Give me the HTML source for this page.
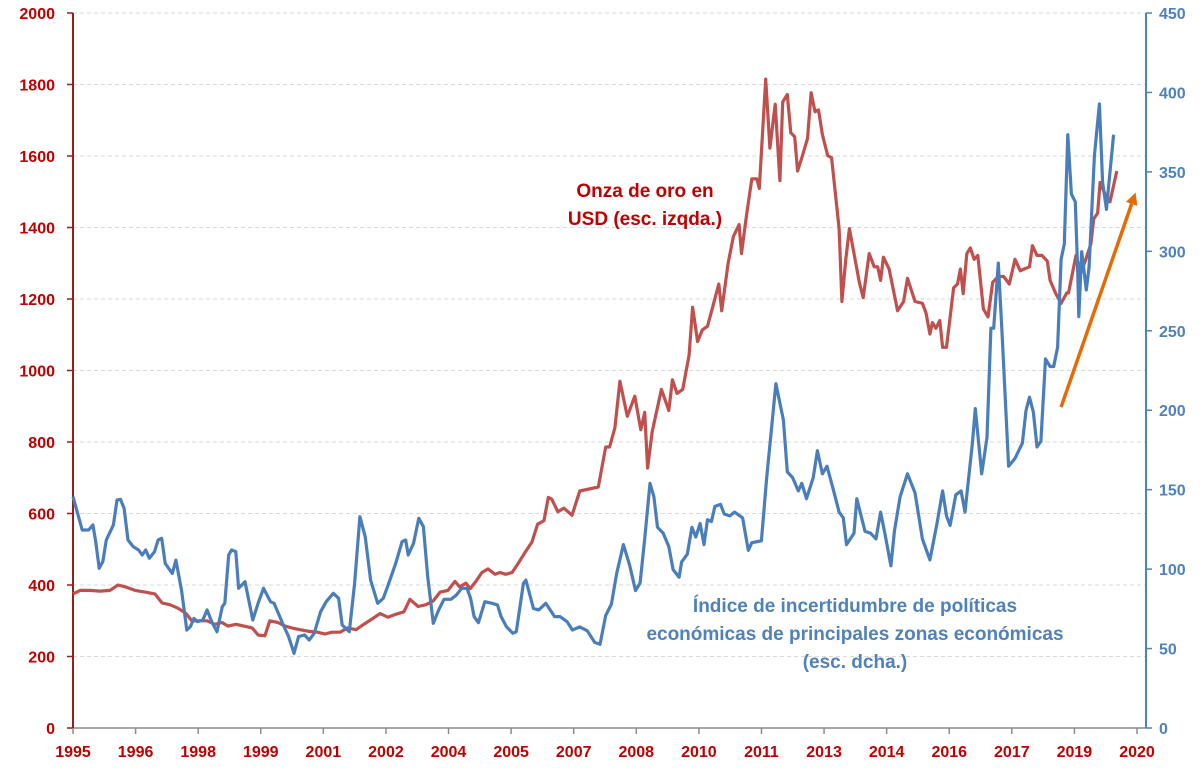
<!DOCTYPE html>
<html><head><meta charset="utf-8"><style>
html,body{margin:0;padding:0;background:#fff;}
svg{display:block;font-family:"Liberation Sans",sans-serif;}
</style></head><body>
<svg id="chart" width="1200" height="784" viewBox="0 0 1200 784" xmlns="http://www.w3.org/2000/svg">
<g id="grid"></g>
<g id="axes"></g>
<g id="series"></g>
<text x="645" y="197" text-anchor="middle" font-size="19" font-weight="bold" fill="#C00000">Onza de oro en</text>
<text x="645" y="225" text-anchor="middle" font-size="19" font-weight="bold" fill="#C00000">USD (esc. izqda.)</text>
<text x="855" y="612" text-anchor="middle" font-size="19" font-weight="bold" fill="#4F81BD">Índice de incertidumbre de políticas</text>
<text x="855" y="640" text-anchor="middle" font-size="19" font-weight="bold" fill="#4F81BD">económicas de principales zonas económicas</text>
<text x="855" y="668" text-anchor="middle" font-size="19" font-weight="bold" fill="#4F81BD">(esc. dcha.)</text>
</svg>
<script>
const xTickLabels = ["1995","1996","1998","1999","2001","2002","2004","2005","2007","2008","2010","2011","2013","2014","2016","2017","2019","2020"];
const leftTicks = [0,200,400,600,800,1000,1200,1400,1600,1800,2000];
const rightTicks = [0,50,100,150,200,250,300,350,400,450];
// gold: month index (0..300) and value in USD
const goldMonths = [0,2,4.8,7.6,10.4,12.7,14.7,17.5,20.3,23.1,25.1,27.3,29.6,31.9,33.5,35.8,37.8,40,42,43.7,46,48.2,50.5,52.2,54.1,55.5,57.8,59.8,61.7,64,66.8,69,71,73,75.3,77.5,79.8,82,84.3,86.6,88.8,91,93.3,95,97.3,99.5,101.5,103.5,105.7,107.7,109,110.8,112,113.6,115.3,117,119,120.4,122,123.8,125.5,127.4,129.4,131,132.8,134,135,136.7,138.4,140.7,142.9,148.1,150.2,151.3,152.8,154.2,156.3,158.4,160.1,161.2,162,163.3,165.9,168,169,170.3,171.9,173.7,174.7,176.1,177.4,178.9,180.5,182.1,182.9,184.7,186.2,187.8,188.5,189.9,191.4,192.8,193.5,195.3,196.5,198,199.3,200.1,201.4,202.4,203.5,204.3,205.5,207.1,208.1,209.2,210.2,211.3,212.8,213.9,216,216.8,217.9,218.9,220.2,221.7,222.8,224.5,225.9,226.9,227.7,228.5,230.1,232.5,234.2,235.3,237.4,239.5,240.5,241.6,242.3,243.3,244.4,245.2,246.3,248.3,249.4,250.2,251,252,253,254.1,255.1,256.7,258,259.3,260.9,262.4,264,265.6,267.1,268.2,269.7,270.5,271.8,273.2,274.7,275.5,277.1,278.6,280.2,280.7,282.8,284.1,285.4,287,287.8,288.9,289.6,291,292.4,294.3];
const goldValues = [375,385,385,383,385,400,395,385,380,375,350,345,335,320,300,300,300,290,295,285,290,285,280,260,258,300,295,285,280,275,270,268,263,268,268,280,275,290,305,320,310,318,325,360,340,345,355,380,385,410,395,405,390,410,435,445,430,435,430,435,460,490,520,570,580,645,640,605,615,595,663,674,786,786,840,970,872,928,834,883,727,829,947,888,974,936,947,1043,1177,1081,1113,1124,1183,1242,1167,1300,1375,1408,1327,1434,1536,1536,1509,1815,1622,1745,1531,1751,1772,1665,1654,1558,1595,1649,1777,1724,1729,1660,1601,1595,1397,1193,1311,1397,1327,1247,1204,1327,1290,1290,1252,1317,1284,1167,1193,1258,1193,1188,1161,1102,1134,1118,1140,1065,1065,1231,1242,1284,1215,1327,1343,1311,1322,1172,1150,1247,1263,1263,1242,1311,1279,1284,1290,1349,1322,1322,1306,1252,1215,1188,1217,1217,1322,1274,1306,1354,1424,1440,1526,1493,1472,1558];
// uncertainty index: month index and value
const epuMonths = [0,2.6,4.4,5.6,6.4,7.4,8.4,9.4,11.4,12.4,13.4,14.4,15.5,17,18.5,19.5,20.5,21.5,23,24,25,26,28,29,30.6,32.1,33.1,34.1,35.1,36.6,37.8,39.1,40.6,42.1,42.8,43.9,44.7,45.9,46.7,48.5,50.7,52.2,53.7,55.7,56.7,59.3,60.8,62.3,63.6,65.3,66.6,68,69.8,71.4,73.4,74.9,75.9,77.9,79.4,80.9,82.4,83.9,85.9,87.5,89,91,92.8,93.8,94.5,96,97.5,98.8,100,101.6,103.1,104.6,106.6,108.1,109.6,111.1,112.1,113.1,114.3,116.1,118.2,119.7,120.7,122.2,124,125,127,127.7,129.8,131.3,133.3,135.8,137.3,139.3,140.8,142.9,145,147.1,148.6,150.2,151.8,153.3,155.2,157,158.6,159.9,161.2,162.7,163.8,164.8,166.4,168,169.2,170.9,171.6,173.2,174.5,175.6,176.8,177.9,178.9,180,181,182.6,183.6,185.2,186.5,188.8,190.4,191.4,194.1,195.6,198.2,200.3,201.4,202.9,204.5,205.5,206.8,208.7,209.9,211.3,212.6,213.9,214.9,216,217.2,218.1,220.2,221,223.3,224.9,226.4,227.7,229,230.6,231.6,233.2,235.3,237.4,239.5,241.6,243.6,245.2,246.3,247.3,248.9,250.4,251.5,253.6,254.4,256.2,257.7,258.8,259.6,260.9,261.9,263.8,265.6,267.7,268.7,269.7,270.8,271.8,272.9,274.2,275.5,276.5,277.6,278.6,279.5,280.5,281.5,282.6,283.3,283.6,284.4,285.7,286.5,288,289.4,290.3,291.4,292,293.4];
const epuValues = [145.6,124.6,124.6,127.8,117.3,100.5,104.7,118.3,127.8,143.5,143.9,138.2,118.3,114.1,112,108.9,112,106.8,111,118.3,119.4,103.6,97.3,105.7,86.8,61.7,63.8,69,66.9,68,74.3,66.9,60.6,76.4,78.5,108.9,112,111,87.9,92.1,68,78.5,87.9,79.5,78.5,64.8,57.5,47,57.5,58.5,55.4,59.6,73.2,79.5,84.8,81.6,64.8,60.6,91,133,120.4,93.1,78.5,81.6,91,103.6,117.3,118.3,108.9,116.2,132,126.7,95.2,65.9,74.3,81,81,83.7,87.9,87.9,81.6,70.1,66.3,79.5,78.5,77.4,70.1,63.8,59.6,60.6,91,93.1,75.3,74.3,78.5,70.1,70.1,66.9,61.7,63.6,61.2,53.9,52.7,70.8,78,97.3,115.4,102.1,86.5,91.3,119,154,145.5,126.3,122.6,114.2,99.7,94.9,104.5,109.4,126.3,120.2,128.7,115.4,131.1,129.9,139.5,140.7,134.7,133.5,135.9,132.3,111.8,116.6,117.8,157.6,216.7,193.8,161.2,157.6,149.2,154,144.3,157.6,174.5,160,164.8,154,145.5,135.9,132.3,115.4,122.6,144.3,123.8,122.6,119,135.9,121.4,102.1,123.8,145.5,160,148,119,105.8,128.7,149.2,133.5,127.5,146.8,149.2,135.9,179.3,201,160,182.9,251.6,251.6,292.6,250.4,164.8,169.7,179.3,199.8,208.2,198.6,176.9,180.5,232.3,227.5,227.5,239.6,295,304.7,373.4,336,331.2,285.4,258.9,299.8,275.7,290.2,360.1,392.7,343.2,326.4,340.8,373.4];
// trend arrow (month, right-axis value)
const arrowStart = [278.6, 202];
const arrowEnd = [299.6, 337];

const NS = "http://www.w3.org/2000/svg";
const X0 = 73, X1 = 1137, YB = 728, YT = 13;
const xs = m => X0 + (m / 300) * (X1 - X0);
const yl = v => YB - (v / 2000) * (YB - YT);
const yr = v => YB - (v / 450) * (YB - YT);
function mk(tag, attrs, parent){ const e = document.createElementNS(NS, tag); for (const k in attrs) e.setAttribute(k, attrs[k]); parent.appendChild(e); return e; }
const grid = document.getElementById('grid'), axes = document.getElementById('axes'), series = document.getElementById('series');

leftTicks.forEach(v => {
  if (v > 0) {
    const g = mk('line', {x1:X0, x2:X1+9, y1:yl(v), y2:yl(v), stroke:'#d9d9d9', 'stroke-width':1, 'stroke-dasharray':'4,3'}, grid);
    
    
  }
  const t = mk('line', {x1:X0-6, x2:X0, y1:yl(v), y2:yl(v), stroke:'#9b1c1c', 'stroke-width':1.5}, axes);
  
  
  const lb = mk('text', {x:55, y:yl(v)+6, 'text-anchor':'end', 'font-size':16, 'font-weight':'bold', fill:'#C00000'}, axes);
  lb.textContent = v;
  
  
});
rightTicks.forEach(v => {
  const t = mk('line', {x1:1146, x2:1152, y1:yr(v), y2:yr(v), stroke:'#4F81BD', 'stroke-width':1.5}, axes);
  
  
  const lb = mk('text', {x:1159, y:yr(v)+6, 'text-anchor':'start', 'font-size':16, 'font-weight':'bold', fill:'#4F81BD'}, axes);
  lb.textContent = v;
  
  
});
xTickLabels.forEach((s, i) => {
  const m = i * 300 / (xTickLabels.length - 1);
  const t = mk('line', {x1:xs(m), x2:xs(m), y1:YB, y2:YB+6, stroke:'#8c8c8c', 'stroke-width':1.5}, axes);
  
  
  const lb = mk('text', {x:xs(m), y:YB+29, 'text-anchor':'middle', 'font-size':16, 'font-weight':'bold', fill:'#C00000'}, axes);
  lb.textContent = s;
  
  
});
const xa = mk('line', {x1:X0, x2:1146, y1:YB, y2:YB, stroke:'#8c8c8c', 'stroke-width':1.5}, axes);


const la = mk('line', {x1:X0, x2:X0, y1:YT, y2:YB, stroke:'#9b1c1c', 'stroke-width':2}, axes);


const ra = mk('line', {x1:1146, x2:1146, y1:YT, y2:YB, stroke:'#4F81BD', 'stroke-width':2}, axes);



const gp = mk('path', {d: goldMonths.map((m,i)=>(i?'L':'M')+xs(m).toFixed(1)+','+yl(goldValues[i]).toFixed(1)).join(''), fill:'none', stroke:'#C0504D', 'stroke-width':3.2, 'stroke-linejoin':'round'}, series);


const ep = mk('path', {d: epuMonths.map((m,i)=>(i?'L':'M')+xs(m).toFixed(1)+','+yr(epuValues[i]).toFixed(1)).join(''), fill:'none', stroke:'#4A7EBB', 'stroke-width':3.2, 'stroke-linejoin':'round'}, series);



const ax1 = xs(arrowStart[0]), ay1 = yr(arrowStart[1]), ax2 = xs(arrowEnd[0]), ay2 = yr(arrowEnd[1]);
const ang = Math.atan2(ay2-ay1, ax2-ax1), L = 12, W = 6;
const bx = ax2 - L*Math.cos(ang), by = ay2 - L*Math.sin(ang);
const ar = mk('line', {x1:ax1, y1:ay1, x2:bx, y2:by, stroke:'#E36C09', 'stroke-width':3.5}, series);


const ah = mk('polygon', {points:[ax2+','+ay2, (bx+W*Math.sin(ang))+','+(by-W*Math.cos(ang)), (bx-W*Math.sin(ang))+','+(by+W*Math.cos(ang))].join(' '), fill:'#E36C09'}, series);


</script>
</body></html>
